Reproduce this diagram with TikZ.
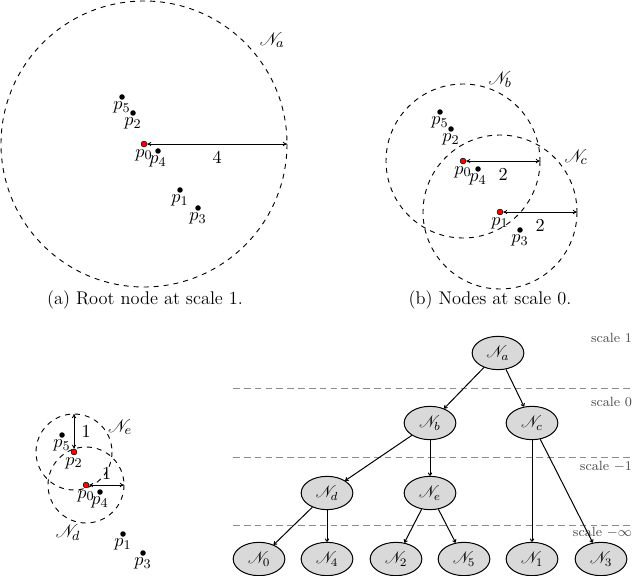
\documentclass[tikz,border=0pt]{standalone}
\usepackage{amsmath}
\usepackage{mathrsfs}
\usetikzlibrary{arrows.meta,positioning,shapes.geometric}
\tikzset{
  pnt/.style={circle, fill=black, inner sep=0pt, minimum size=3.3pt},
  ctr/.style={circle, fill=red, draw=black, line width=0.3pt, inner sep=0pt, minimum size=3.5pt},
  ball/.style={draw, dashed, line width=0.55pt},
  radarrow/.style={{To[length=2.5pt,width=2.6pt]}-{To[length=2.5pt,width=2.6pt]}, line width=0.5pt},
  plbl/.style={inner sep=1pt, font=\fontsize{11}{13}\selectfont},
  panellbl/.style={font=\fontsize{11}{13}\selectfont},
  tnode/.style={ellipse, draw, fill=black!15, line width=0.6pt, minimum width=31pt, minimum height=20pt, inner sep=1pt},
  tarrow/.style={-{To[length=2pt,width=2.6pt]}, line width=0.6pt},
  scaleline/.style={draw=black!45, dash pattern=on 4pt off 2.5pt, line width=0.5pt},
  scalelbl/.style={anchor=east, font=\footnotesize, text=black!70, inner sep=1pt},
  captionlbl/.style={font=\fontsize{11}{13}\selectfont}
}

\begin{document}
\begin{tikzpicture}[x=0.6pt, y=-0.6pt]
\useasboundingbox (0,0) rectangle (640,576);

% (a) root node
\node[pnt, label={[plbl]below:$p_5$}] (a5) at (122,97) {};
\node[pnt, label={[plbl]below:$p_2$}] (a2) at (133,113) {};
\node[pnt, label={[plbl]below:$p_4$}] (a4) at (158,151) {};
\node[pnt, label={[plbl]below:$p_1$}] (a1) at (180,190) {};
\node[pnt, label={[plbl]below:$p_3$}] (a3) at (198,208) {};
\node[ctr, label={[plbl]below:$p_0$}] (a0) at (144,144) {};
\draw[ball] (a0.center) circle[radius=143];
\coordinate (ra) at (287,144);
\draw[radarrow] (a0) -- (ra) node[panellbl, midway, below=1pt] {$4$};
\node[panellbl] (lna) at (272,40) {$\mathscr{N}_a$};
\node[captionlbl] (capa) at (145,300) {(a) Root node at scale 1.};

% (b) scale 0
\node[pnt, label={[plbl]below:$p_5$}] (b5) at (440,112) {};
\node[pnt, label={[plbl]below:$p_2$}] (b2) at (451,129) {};
\node[pnt, label={[plbl]below:$p_4$}] (b4) at (478,169) {};
\node[pnt, label={[plbl]below:$p_3$}] (b3) at (520,230) {};
\node[ctr, label={[plbl]below:$p_0$}] (b0) at (463,161) {};
\node[ctr, label={[plbl]below:$p_1$}] (b1) at (500,212) {};
\draw[ball] (b0.center) circle[radius=77];
\draw[ball] (b1.center) circle[radius=77];
\coordinate (rb) at (540,161);
\coordinate (rc) at (577,212);
\draw[radarrow] (b0) -- (rb) node[panellbl, midway, below=1pt] {$2$};
\draw[radarrow] (b1) -- (rc) node[panellbl, midway, below=1pt] {$2$};
\node[panellbl] (lnb) at (500,80) {$\mathscr{N}_b$};
\node[panellbl] (lnc) at (576,157) {$\mathscr{N}_c$};
\node[captionlbl] (capb) at (490,300) {(b) Nodes at scale 0.};

% (c) scale -1
\node[pnt, label={[plbl]below:$p_5$}] (c5) at (62,435) {};
\node[pnt, label={[plbl]below:$p_4$}] (c4) at (100,492) {};
\node[pnt, label={[plbl]below:$p_1$}] (c1) at (123,534) {};
\node[pnt, label={[plbl]below:$p_3$}] (c3) at (143,553) {};
\node[ctr, label={[plbl]below:$p_2$}] (c2) at (74,452) {};
\node[ctr, label={[plbl]below:$p_0$}] (c0) at (86,485) {};
\draw[ball] (c0.center) circle[radius=38];
\draw[ball] (c2.center) circle[radius=38];
\coordinate (rd) at (124,485);
\coordinate (re) at (74,414);
\draw[radarrow] (c0) -- (rd) node[panellbl, midway, above=0pt] {$1$};
\draw[radarrow] (c2) -- (re) node[panellbl, midway, right=1pt] {$1$};
\node[panellbl] (lne) at (120,427) {$\mathscr{N}_e$};
\node[panellbl] (lnd) at (68,533) {$\mathscr{N}_d$};

% (d) cover tree
\draw[scaleline] (233,388) -- (633,388);
\draw[scaleline] (233,457) -- (633,457);
\draw[scaleline] (233,525) -- (633,525);
\node[scalelbl] (s1) at (634,338) {scale $1$};
\node[scalelbl] (s0) at (634,402) {scale $0$};
\node[scalelbl] (sm1) at (634,467) {scale $-1$};
\node[scalelbl] (sminf) at (634,533) {scale $-\infty$};

\node[tnode] (na) at (498,353) {$\mathscr{N}_a$};
\node[tnode] (nb) at (430,423) {$\mathscr{N}_b$};
\node[tnode] (nc) at (532,423) {$\mathscr{N}_c$};
\node[tnode] (nd) at (327,493) {$\mathscr{N}_d$};
\node[tnode] (ne) at (430,493) {$\mathscr{N}_e$};
\node[tnode] (n0) at (259,559) {$\mathscr{N}_0$};
\node[tnode] (n4) at (327,559) {$\mathscr{N}_4$};
\node[tnode] (n2) at (396,559) {$\mathscr{N}_2$};
\node[tnode] (n5) at (464,559) {$\mathscr{N}_5$};
\node[tnode] (n1) at (532,559) {$\mathscr{N}_1$};
\node[tnode] (n3) at (601,559) {$\mathscr{N}_3$};
\draw[tarrow] (na) -- (nb);
\draw[tarrow] (na) -- (nc);
\draw[tarrow] (nb) -- (nd);
\draw[tarrow] (nb) -- (ne);
\draw[tarrow] (nc) -- (n1);
\draw[tarrow] (nc) -- (n3);
\draw[tarrow] (nd) -- (n0);
\draw[tarrow] (nd) -- (n4);
\draw[tarrow] (ne) -- (n2);
\draw[tarrow] (ne) -- (n5);
\end{tikzpicture}
\end{document}
